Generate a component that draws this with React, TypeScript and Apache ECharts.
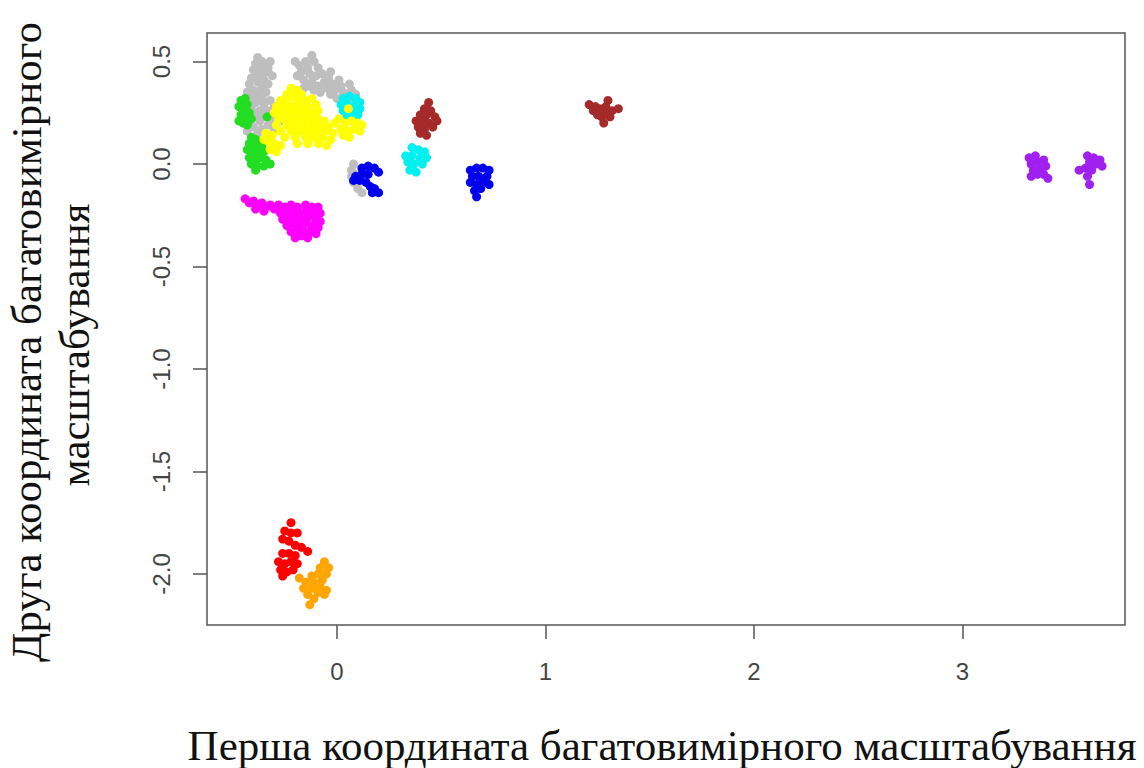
import React, { useEffect, useRef } from "react";
import * as echarts from "echarts";

const xTicks = [0, 1, 2, 3];
const yTicks = [-2, -1.5, -1, -0.5, 0, 0.5];
const xTitle = "Перша координата багатовимірного масштабування";
const yTitle1 = "Друга координата багатовимірного";
const yTitle2 = "масштабування";

const grayPts = [
  [-0.38, 0.52], [-0.36, 0.5], [-0.39, 0.49], [-0.34, 0.48], [-0.37, 0.47], [-0.4, 0.46], [-0.33, 0.45], [-0.36, 0.44],
  [-0.39, 0.43], [-0.41, 0.42], [-0.35, 0.41], [-0.38, 0.4], [-0.42, 0.39], [-0.33, 0.39], [-0.36, 0.37], [-0.4, 0.36],
  [-0.43, 0.35], [-0.34, 0.35], [-0.38, 0.34], [-0.41, 0.32], [-0.36, 0.32], [-0.32, 0.31], [-0.39, 0.3], [-0.43, 0.29],
  [-0.35, 0.29], [-0.3, 0.28], [-0.41, 0.27], [-0.37, 0.26], [-0.33, 0.26], [-0.28, 0.25], [-0.44, 0.24], [-0.39, 0.24],
  [-0.35, 0.23], [-0.31, 0.22], [-0.42, 0.21], [-0.37, 0.21], [-0.27, 0.21], [-0.33, 0.19], [-0.4, 0.18], [-0.36, 0.17],
  [-0.3, 0.17], [-0.43, 0.16], [-0.38, 0.15], [-0.33, 0.14], [-0.35, 0.47], [-0.31, 0.43], [-0.32, 0.5], [-0.33, 0.47],
  [-0.2, 0.5], [-0.18, 0.48], [-0.15, 0.5], [-0.12, 0.53], [-0.11, 0.5], [-0.14, 0.47], [-0.17, 0.45], [-0.19, 0.43],
  [-0.13, 0.44], [-0.09, 0.47], [-0.1, 0.43], [-0.16, 0.41], [-0.12, 0.4], [-0.07, 0.44], [-0.06, 0.4], [-0.09, 0.38],
  [-0.14, 0.38], [-0.04, 0.42], [-0.02, 0.39], [-0.05, 0.37], [-0.01, 0.36], [0.02, 0.38], [0.03, 0.35], [-0.03, 0.34],
  [0.05, 0.33], [0.07, 0.36], [0.0, 0.32], [0.08, 0.31], [0.04, 0.3], [0.09, 0.34], [-0.08, 0.35], [-0.11, 0.36],
  [-0.16, 0.37], [0.06, 0.39], [0.01, 0.41], [-0.03, 0.45],
  [0.08, 0.0], [0.07, -0.03], [0.07, -0.06], [0.08, -0.09], [0.1, -0.12], [0.12, -0.14], [0.09, -0.05],
];

const greenPts = [
  [-0.46, 0.31], [-0.44, 0.32], [-0.47, 0.28], [-0.45, 0.27], [-0.43, 0.29], [-0.46, 0.24], [-0.44, 0.23], [-0.42, 0.25],
  [-0.47, 0.21], [-0.45, 0.2], [-0.43, 0.19], [-0.41, 0.22],
  [-0.41, 0.13], [-0.39, 0.12], [-0.42, 0.1], [-0.4, 0.09], [-0.37, 0.1], [-0.43, 0.07], [-0.41, 0.06], [-0.38, 0.07],
  [-0.35, 0.06], [-0.42, 0.03], [-0.4, 0.02], [-0.37, 0.03], [-0.34, 0.02], [-0.41, 0.0], [-0.38, -0.01], [-0.35, -0.01],
  [-0.32, 0.0], [-0.39, -0.03], [-0.36, 0.09], [-0.39, 0.04], [-0.335, 0.23],
];

const cyanPts = [
  [0.03, 0.32], [0.06, 0.33], [0.09, 0.32], [0.11, 0.3], [0.02, 0.29], [0.05, 0.29], [0.08, 0.28], [0.11, 0.27],
  [0.03, 0.26], [0.07, 0.25], [0.1, 0.24], [0.05, 0.23],
  [0.36, 0.08], [0.39, 0.07], [0.42, 0.06], [0.33, 0.04], [0.36, 0.04], [0.4, 0.03], [0.43, 0.03], [0.34, 0.01],
  [0.37, 0.0], [0.41, 0.0], [0.35, -0.03], [0.38, -0.04],
];

const yellowPts = [
  [-0.22, 0.37], [-0.19, 0.36], [-0.24, 0.34], [-0.17, 0.34], [-0.21, 0.33],
  [-0.27, 0.31], [-0.24, 0.31], [-0.19, 0.31], [-0.15, 0.31], [-0.12, 0.32],
  [-0.29, 0.28], [-0.26, 0.28], [-0.22, 0.28], [-0.18, 0.28], [-0.14, 0.28], [-0.1, 0.29],
  [-0.3, 0.25], [-0.27, 0.25], [-0.23, 0.25], [-0.2, 0.25], [-0.16, 0.25], [-0.12, 0.25], [-0.09, 0.26],
  [-0.28, 0.22], [-0.25, 0.22], [-0.21, 0.22], [-0.17, 0.22], [-0.13, 0.22], [-0.09, 0.22], [-0.06, 0.21],
  [-0.29, 0.19], [-0.24, 0.19], [-0.2, 0.19], [-0.16, 0.19], [-0.12, 0.19], [-0.08, 0.19], [-0.04, 0.18], [-0.01, 0.2],
  [-0.27, 0.16], [-0.22, 0.16], [-0.18, 0.16], [-0.14, 0.16], [-0.1, 0.16], [-0.06, 0.16], [-0.02, 0.15],
  [-0.25, 0.13], [-0.2, 0.13], [-0.15, 0.13], [-0.11, 0.13], [-0.07, 0.13], [-0.03, 0.12],
  [-0.19, 0.1], [-0.14, 0.1], [-0.09, 0.1], [-0.05, 0.09],
  [-0.34, 0.15], [-0.31, 0.14], [-0.33, 0.11], [-0.3, 0.1], [-0.32, 0.07], [-0.29, 0.06], [-0.27, 0.09], [-0.35, 0.12],
  [0.01, 0.22], [0.04, 0.2], [0.07, 0.21], [0.1, 0.2], [0.12, 0.19], [0.02, 0.17], [0.05, 0.16], [0.08, 0.17],
  [0.11, 0.16], [0.03, 0.14], [0.06, 0.13], [0.055, 0.27],
];

const magentaPts = [
  [-0.44, -0.17], [-0.42, -0.19], [-0.4, -0.18], [-0.38, -0.2], [-0.36, -0.19], [-0.34, -0.21], [-0.32, -0.2], [-0.3, -0.22],
  [-0.39, -0.22], [-0.35, -0.23],
  [-0.28, -0.2], [-0.25, -0.21], [-0.22, -0.2], [-0.19, -0.21], [-0.15, -0.2], [-0.12, -0.21], [-0.09, -0.21],
  [-0.27, -0.24], [-0.24, -0.24], [-0.21, -0.23], [-0.18, -0.24], [-0.15, -0.23], [-0.12, -0.24], [-0.08, -0.24],
  [-0.26, -0.27], [-0.23, -0.27], [-0.2, -0.26], [-0.17, -0.27], [-0.14, -0.26], [-0.1, -0.27], [-0.08, -0.28],
  [-0.24, -0.3], [-0.21, -0.29], [-0.18, -0.3], [-0.15, -0.29], [-0.12, -0.3], [-0.09, -0.31],
  [-0.22, -0.33], [-0.19, -0.32], [-0.16, -0.33], [-0.13, -0.33], [-0.1, -0.34],
  [-0.2, -0.36], [-0.17, -0.35], [-0.14, -0.36],
];

const bluePts = [
  [0.12, -0.02], [0.15, -0.01], [0.18, -0.02], [0.2, -0.04], [0.09, -0.06], [0.12, -0.05], [0.15, -0.05], [0.08, -0.08],
  [0.11, -0.08], [0.14, -0.09], [0.16, -0.11], [0.18, -0.12], [0.2, -0.14], [0.17, -0.14],
  [0.64, -0.03], [0.67, -0.02], [0.7, -0.02], [0.73, -0.03], [0.65, -0.06], [0.68, -0.06], [0.72, -0.06], [0.64, -0.09],
  [0.67, -0.1], [0.7, -0.09], [0.73, -0.1], [0.66, -0.13], [0.69, -0.12], [0.67, -0.16],
];

const brownPts = [
  [0.44, 0.3], [0.42, 0.27], [0.45, 0.26], [0.4, 0.24], [0.43, 0.24], [0.47, 0.23], [0.38, 0.21], [0.41, 0.21],
  [0.44, 0.2], [0.48, 0.21], [0.39, 0.18], [0.42, 0.17], [0.46, 0.18], [0.4, 0.15], [0.43, 0.14],
  [1.21, 0.29], [1.24, 0.28], [1.23, 0.26], [1.26, 0.27], [1.28, 0.25], [1.27, 0.23], [1.3, 0.31], [1.29, 0.28],
  [1.32, 0.26], [1.35, 0.27], [1.31, 0.23], [1.28, 0.2], [1.25, 0.24],
];

const redPts = [
  [-0.22, -1.75], [-0.25, -1.79], [-0.22, -1.8], [-0.19, -1.8], [-0.26, -1.83], [-0.23, -1.84], [-0.2, -1.86],
  [-0.17, -1.87], [-0.14, -1.89], [-0.26, -1.9], [-0.23, -1.9], [-0.2, -1.91], [-0.28, -1.94], [-0.25, -1.95],
  [-0.22, -1.94], [-0.19, -1.95], [-0.27, -1.98], [-0.24, -1.99], [-0.21, -1.98], [-0.26, -2.01],
];

const orangePts = [
  [-0.06, -1.94], [-0.04, -1.97], [-0.08, -1.97], [-0.05, -2.0], [-0.09, -2.0], [-0.12, -2.01], [-0.07, -2.03],
  [-0.18, -2.02], [-0.15, -2.04], [-0.11, -2.04], [-0.08, -2.06], [-0.05, -2.08], [-0.16, -2.07], [-0.12, -2.07],
  [-0.09, -2.09], [-0.06, -2.1], [-0.14, -2.1], [-0.11, -2.12], [-0.13, -2.15],
];

const purplePts = [
  [3.32, 0.03], [3.35, 0.04], [3.33, 0.0], [3.36, 0.01], [3.39, 0.02], [3.34, -0.03], [3.37, -0.02], [3.4, -0.01],
  [3.36, -0.05], [3.39, -0.05], [3.41, -0.07], [3.33, -0.06],
  [3.6, 0.04], [3.63, 0.03], [3.66, 0.02], [3.67, -0.01], [3.61, 0.01], [3.64, 0.0], [3.59, -0.02], [3.56, -0.03],
  [3.62, -0.03], [3.6, -0.06], [3.61, -0.1],
];

const seriesDefs = [
  { name: "gray", color: "#BEBEBE", data: grayPts },
  { name: "green", color: "#22DD22", data: greenPts },
  { name: "cyan", color: "#00F0F0", data: cyanPts },
  { name: "yellow", color: "#FFFF00", data: yellowPts },
  { name: "magenta", color: "#FF00FF", data: magentaPts },
  { name: "blue", color: "#0000EE", data: bluePts },
  { name: "brown", color: "#A52A2A", data: brownPts },
  { name: "red", color: "#FF0000", data: redPts },
  { name: "orange", color: "#FFA500", data: orangePts },
  { name: "purple", color: "#A020F0", data: purplePts },
];

export default function App() {
  const ref = useRef<HTMLDivElement>(null);
  useEffect(() => {
    if (!ref.current) return;
    const chart = echarts.init(ref.current, null, { renderer: "svg" });
    const axisColor = "#555";
    const labelFont = { fontFamily: "Liberation Sans, Arial, sans-serif", fontSize: 24, color: "#444" };
    const titleStyle = {
      fontFamily: "Liberation Serif, Times New Roman, serif",
      fontSize: 43,
      fill: "#111",
      textAlign: "center",
      textVerticalAlign: "middle",
      align: "center",
      verticalAlign: "middle",
    };
    chart.setOption({
      animation: false,
      backgroundColor: "#fff",
      grid: {
        left: 207,
        top: 33,
        right: 19,
        bottom: 143,
        show: true,
        borderColor: axisColor,
        borderWidth: 1.5,
        backgroundColor: "transparent",
      },
      xAxis: {
        type: "value",
        min: -0.623,
        max: 3.78,
        splitLine: { show: false },
        axisLine: { show: false, onZero: false },
        axisTick: { show: true, inside: false, length: 14, customValues: xTicks, lineStyle: { color: axisColor, width: 1.5 } },
        axisLabel: { customValues: xTicks, margin: 34, formatter: (v: number) => String(v), ...labelFont },
      },
      yAxis: {
        type: "value",
        min: -2.249,
        max: 0.639,
        splitLine: { show: false },
        axisLine: { show: false, onZero: false },
        axisTick: { show: true, inside: false, length: 14, customValues: yTicks, lineStyle: { color: axisColor, width: 1.5 } },
        axisLabel: { customValues: yTicks, rotate: 90, margin: 34, formatter: (v: number) => v.toFixed(1), ...labelFont },
      },
      graphic: [
        { type: "text", x: 662, y: 745, style: { text: xTitle, ...titleStyle } },
        { type: "text", x: 26, y: 342, rotation: Math.PI / 2, style: { text: yTitle1, ...titleStyle } },
        { type: "text", x: 74, y: 345, rotation: Math.PI / 2, style: { text: yTitle2, ...titleStyle } },
      ],
      series: seriesDefs.map((s) => ({
        type: "scatter",
        name: s.name,
        data: s.data,
        symbol: "circle",
        symbolSize: 9,
        itemStyle: { color: s.color, opacity: 1 },
        emphasis: { disabled: true },
      })),
    });
    return () => chart.dispose();
  }, []);
  return (
    <div
      ref={ref}
      style={{ position: "fixed", left: 0, top: 0, width: 1144, height: 768, background: "#fff" }}
    />
  );
}
